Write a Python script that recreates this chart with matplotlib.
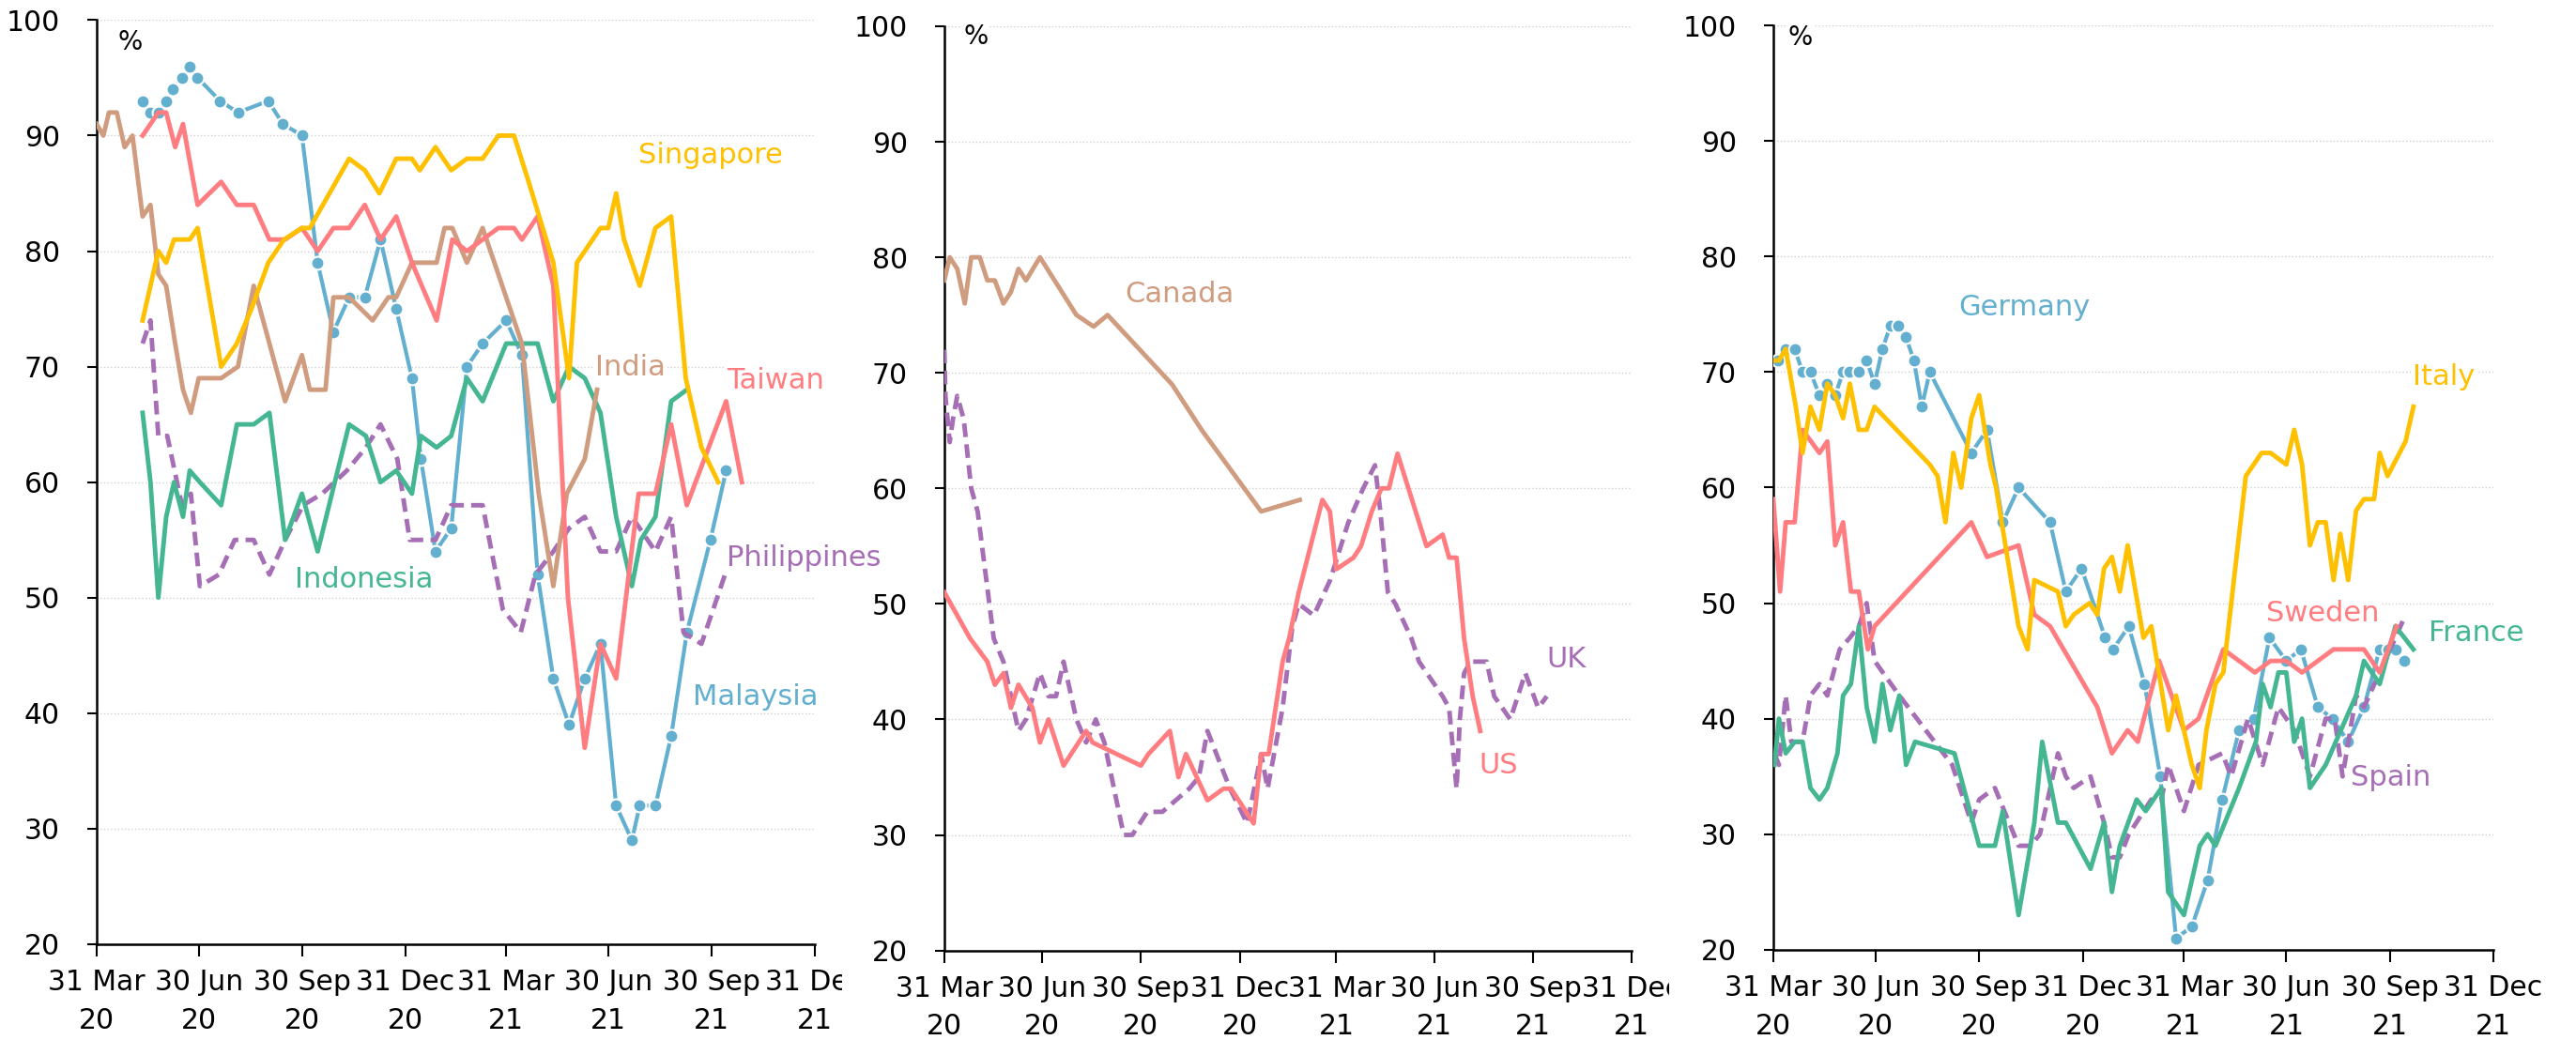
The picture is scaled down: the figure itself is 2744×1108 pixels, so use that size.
import matplotlib
matplotlib.use('Agg')
import matplotlib.pyplot as plt
import matplotlib.transforms as mtransforms
import pandas as pd

# days are counted from 31 Mar 2020
base = pd.Timestamp('2020-03-31')

tick_dates = ['2020-03-31', '2020-06-30', '2020-09-30', '2020-12-31',
              '2021-03-31', '2021-06-30', '2021-09-30', '2021-12-31']
tick_labels = ['31 Mar\n20', '30 Jun\n20', '30 Sep\n20', '31 Dec\n20',
               '31 Mar\n21', '30 Jun\n21', '30 Sep\n21', '31 Dec\n21']

# ---- panel 1: Asia ----
singapore_d = [41, 55, 62, 69, 83, 90, 111, 125, 138, 153, 167, 183, 190, 225, 239, 252, 267, 281, 288,
               302, 316, 330, 344, 358, 372, 385, 407, 421, 428, 449, 456, 463, 470, 484, 498, 512, 525, 539, 554]
singapore_v = [74, 80, 79, 81, 81, 82, 70, 72, 75, 79, 81, 82, 82, 88, 87, 85, 88, 88, 87,
               89, 87, 88, 88, 90, 90, 86, 79, 69, 79, 82, 82, 85, 81, 77, 82, 83, 69, 63, 60]

taiwan_d = [41, 55, 62, 70, 77, 90, 111, 125, 140, 154, 168, 183, 197, 211, 225, 239, 253, 267, 281,
            303, 317, 330, 344, 358, 372, 379, 393, 407, 420, 435, 449, 463, 483, 498, 512, 526, 561, 575]
taiwan_v = [90, 92, 92, 89, 91, 84, 86, 84, 84, 81, 81, 82, 80, 82, 82, 84, 81, 83, 79,
            74, 81, 80, 81, 82, 82, 81, 83, 77, 50, 37, 46, 43, 59, 59, 65, 58, 67, 60]

malaysia_d = [41, 48, 55, 62, 68, 76, 83, 90, 110, 126, 153, 166, 183, 197, 211, 225, 239, 253, 267, 281,
              289, 302, 316, 330, 344, 365, 379, 393, 407, 421, 435, 449, 463, 477, 484, 498, 512, 526, 547, 561]
malaysia_v = [93, 92, 92, 93, 94, 95, 96, 95, 93, 92, 93, 91, 90, 79, 73, 76, 76, 81, 75, 69,
              62, 54, 56, 70, 72, 74, 71, 52, 43, 39, 43, 46, 32, 29, 32, 32, 38, 47, 55, 61]

india_d = [0, 6, 11, 18, 25, 32, 41, 48, 55, 62, 70, 77, 84, 91, 111, 126, 140, 168, 183, 190, 204,
           211, 225, 246, 260, 267, 281, 303, 310, 317, 330, 344, 379, 394, 407, 419, 435, 446]
india_v = [91, 90, 92, 92, 89, 90, 83, 84, 78, 77, 72, 68, 66, 69, 69, 70, 77, 67, 71, 68, 68,
           76, 76, 74, 76, 76, 79, 79, 82, 82, 79, 82, 72, 59, 51, 59, 62, 68]

indonesia_d = [41, 48, 55, 62, 69, 77, 83, 92, 111, 125, 140, 154, 168, 183, 197, 225, 240, 253, 267,
               281, 289, 303, 316, 330, 344, 365, 393, 407, 421, 435, 449, 463, 477, 485, 498, 512, 526]
indonesia_v = [66, 60, 50, 57, 60, 57, 61, 60, 58, 65, 65, 66, 55, 59, 54, 65, 64, 60, 61,
               59, 64, 63, 64, 69, 67, 72, 72, 67, 70, 69, 66, 57, 51, 55, 57, 67, 68]

phil_d = [41, 48, 55, 63, 76, 84, 92, 109, 123, 140, 154, 168, 184, 201, 223, 240, 253, 268, 279,
          289, 302, 316, 344, 362, 378, 391, 407, 421, 435, 449, 463, 477, 484, 498, 512, 523, 539, 560]
phil_v = [72, 74, 64, 64, 58, 59, 51, 52, 55, 55, 52, 55, 58, 59, 61, 63, 65, 62, 55,
          55, 55, 58, 58, 49, 47, 52, 54, 56, 57, 54, 54, 57, 56, 54, 57, 47, 46, 52]

# ---- panel 2: North America / UK ----
canada_d = [0, 5, 12, 19, 25, 33, 40, 47, 55, 62, 69, 76, 89, 123, 139, 152, 212, 240, 295, 331]
canada_v = [78, 80, 79, 76, 80, 80, 78, 78, 76, 77, 79, 78, 80, 75, 74, 75, 69, 65, 58, 59]

us_d = [0, 24, 40, 47, 55, 62, 69, 82, 89, 97, 111, 132, 138, 183, 190, 210, 218, 225, 245, 260, 267,
        288, 295, 302, 315, 321, 330, 352, 359, 365, 381, 388, 398, 407, 414, 422, 449, 464, 470, 477,
        484, 492, 499]
us_v = [51, 47, 45, 43, 44, 41, 43, 41, 38, 40, 36, 39, 38, 36, 37, 39, 35, 37, 33, 34, 34,
        31, 37, 37, 45, 47, 51, 59, 58, 53, 54, 55, 58, 60, 60, 63, 55, 56, 54, 54,
        47, 42, 39]

uk_d = [0, 1, 5, 8, 12, 18, 25, 31, 46, 55, 69, 76, 89, 97, 104, 111, 123, 132, 141, 149, 167, 175,
        189, 203, 228, 237, 245, 266, 282, 295, 301, 315, 324, 330, 344, 359, 376, 390, 401, 406, 413,
        420, 435, 442, 464, 470, 474, 477, 480, 484, 490, 505, 512, 527, 541, 553, 561]
uk_v = [72, 68, 64, 66, 68, 66, 60, 58, 47, 45, 39, 40, 44, 42, 42, 45, 40, 38, 40, 38, 30, 30,
        32, 32, 34, 35, 39, 34, 31, 37, 34, 41, 48, 50, 49, 52, 57, 60, 62, 58, 51,
        50, 47, 45, 42, 41, 37, 34, 40, 44, 45, 45, 42, 40, 44, 41, 42]

# ---- panel 3: Europe ----
germany_d = [4, 11, 19, 26, 33, 41, 48, 55, 62, 68, 76, 83, 90, 97, 104, 111, 118, 125, 132, 139, 176,
             190, 204, 218, 246, 260, 274, 295, 302, 316, 330, 344, 358, 372, 386, 399, 414, 427, 441,
             456, 469, 484, 497, 511, 525, 539, 547, 553, 561]
germany_v = [71, 72, 72, 70, 70, 68, 69, 68, 70, 70, 70, 71, 69, 72, 74, 74, 73, 71, 67, 70, 63,
             65, 57, 60, 57, 51, 53, 47, 46, 48, 43, 35, 21, 22, 26, 33, 39, 40, 47,
             45, 46, 41, 40, 38, 41, 46, 46, 46, 45]

italy_d = [0, 5, 11, 20, 26, 33, 41, 48, 55, 62, 68, 76, 83, 90, 139, 146, 153, 160, 167, 176, 183,
           193, 198, 218, 226, 232, 253, 260, 267, 281, 288, 294, 301, 308, 315, 329, 336, 351, 358,
           372, 379, 385, 393, 400, 420, 434, 442, 456, 463, 470, 477, 484, 491, 498, 504, 511, 518,
           525, 534, 539, 546, 562, 569]
italy_v = [71, 71, 72, 67, 63, 67, 65, 69, 68, 66, 69, 65, 65, 67, 62, 61, 57, 63, 60, 66, 68,
           62, 60, 48, 46, 52, 51, 48, 49, 50, 49, 53, 54, 51, 55, 47, 48, 39, 42,
           36, 34, 39, 43, 44, 61, 63, 63, 62, 65, 62, 55, 57, 57, 52, 56, 52, 58,
           59, 59, 63, 61, 64, 67]

sweden_d = [0, 6, 11, 19, 26, 41, 48, 55, 62, 69, 76, 84, 90, 176, 190, 218, 232, 246, 288, 301, 315,
            324, 343, 365, 378, 400, 428, 442, 456, 470, 498, 525, 539, 554]
sweden_v = [59, 51, 57, 57, 65, 63, 64, 55, 57, 51, 51, 46, 48, 57, 54, 55, 49, 48, 41, 37, 39,
            38, 45, 39, 40, 46, 44, 45, 45, 44, 46, 46, 44, 48]

france_d = [1, 5, 11, 19, 26, 33, 41, 48, 57, 62, 69, 76, 83, 90, 97, 104, 112, 118, 126, 161, 183,
            197, 204, 218, 232, 239, 253, 260, 282, 294, 301, 308, 323, 331, 345, 351, 365, 379, 386,
            393, 414, 429, 435, 442, 449, 456, 463, 470, 477, 491, 518, 525, 539, 553, 569]
france_v = [36, 40, 37, 38, 38, 34, 33, 34, 37, 42, 43, 48, 41, 38, 43, 39, 42, 36, 38, 37, 29,
            29, 32, 23, 31, 38, 31, 31, 27, 31, 25, 29, 33, 32, 34, 25, 23, 29, 30,
            29, 34, 38, 43, 41, 44, 44, 38, 40, 34, 36, 42, 45, 43, 48, 46]

spain_d = [1, 5, 11, 16, 26, 33, 41, 48, 59, 68, 76, 83, 90, 112, 159, 176, 183, 197, 218, 229, 237,
           253, 260, 267, 282, 294, 301, 308, 316, 336, 345, 351, 365, 378, 399, 407, 422, 435, 449,
           456, 463, 477, 491, 499, 506, 518, 525, 539, 553, 562]
spain_v = [37, 36, 42, 38, 38, 42, 43, 42, 46, 47, 48, 50, 45, 42, 36, 31, 33, 34, 29, 29, 30,
           37, 35, 34, 35, 31, 28, 28, 30, 33, 33, 36, 32, 36, 37, 35, 40, 36, 41,
           40, 39, 35, 40, 40, 35, 42, 41, 44, 47, 49]

YELLOW = '#FFC000'
SALMON = '#FF7C80'
TAN = '#D09C7F'
GREEN = '#44B692'
BLUE = '#62AFCF'
PURPLE = '#A56EB5'

# (label, days, values, colour, style, label day, label value)
panels = [
    [('Malaysia', malaysia_d, malaysia_v, BLUE, 'marker', 587, 41.4),
     ('Philippines', phil_d, phil_v, PURPLE, 'dash', 630, 53.4),
     ('Indonesia', indonesia_d, indonesia_v, GREEN, 'solid', 238, 51.6),
     ('India', india_d, india_v, TAN, 'solid', 476, 69.9),
     ('Taiwan', taiwan_d, taiwan_v, SALMON, 'solid', 605, 68.8),
     ('Singapore', singapore_d, singapore_v, YELLOW, 'solid', 547, 88.3)],
    [('Canada', canada_d, canada_v, TAN, 'solid', 219, 76.8),
     ('UK', uk_d, uk_v, PURPLE, 'dash', 579, 45.2),
     ('US', us_d, us_v, SALMON, 'solid', 516, 36.0)],
    [('Germany', germany_d, germany_v, BLUE, 'marker', 223, 75.6),
     ('Spain', spain_d, spain_v, PURPLE, 'dash', 549, 34.9),
     ('France', france_d, france_v, GREEN, 'solid', 625, 47.4),
     ('Sweden', sweden_d, sweden_v, SALMON, 'solid', 488, 49.1),
     ('Italy', italy_d, italy_v, YELLOW, 'solid', 596, 69.6)],
]

# axes boxes in figure fraction, and the x-range where tick labels stay visible
boxes = [[0.0375, 0.0921, 0.2788, 0.8886],
         [0.3666, 0.0861, 0.2668, 0.8887],
         [0.6884, 0.0868, 0.2795, 0.8887]]
pct_pos = [(0.047, 0.976), (0.046, 0.989), (0.037, 0.987)]
label_clip = [(0.0, 897 / 2744), (940 / 2744, 1778 / 2744), (0.0, 1.0)]

plt.rcParams['font.family'] = 'DejaVu Sans'
fig = plt.figure(figsize=(27.44, 11.08), dpi=100)

def to_dates(days):
    return base + pd.to_timedelta(days, unit='D')

for box, series, pct, clip in zip(boxes, panels, pct_pos, label_clip):
    ax = fig.add_axes(box)
    for name, d, v, col, style, lx, ly in series:
        x = to_dates(d)
        if style == 'marker':
            ax.plot(x, v, color=col, lw=3, marker='o', ms=10, mec='white', mew=1.5, zorder=3)
        elif style == 'dash':
            ax.plot(x, v, color=col, lw=3.5, ls=(0, (3, 1.6)), zorder=3)
        else:
            ax.plot(x, v, color=col, lw=3.5, zorder=3)
        ax.text(base + pd.Timedelta(days=lx), ly, name, color=col, fontsize=22,
                ha='center', va='center', zorder=1.5,
                bbox=dict(facecolor='white', edgecolor='none', pad=1))

    ax.text(pct[0], pct[1], '%', transform=ax.transAxes, fontsize=20,
            ha='center', va='center', zorder=1.5,
            bbox=dict(facecolor='white', edgecolor='none', pad=1))

    ax.set_ylim(20, 100)
    ax.set_yticks(range(20, 101, 10))
    ax.set_xlim(pd.Timestamp(tick_dates[0]), pd.Timestamp(tick_dates[-1]))
    ax.set_xticks(pd.to_datetime(tick_dates))
    ax.set_xticklabels(tick_labels, linespacing=1.5)
    ax.set_axisbelow(True)
    ax.grid(axis='y', color='#D0D0D0', ls=':', lw=1)

    for s in ['top', 'right']:
        ax.spines[s].set_visible(False)
    for s in ['left', 'bottom']:
        ax.spines[s].set_linewidth(1.8)
    ax.tick_params(axis='y', direction='out', length=7, width=1.5, pad=21, labelsize=21.5)
    ax.tick_params(axis='x', direction='out', length=9, width=1.5, pad=10, labelsize=21.5)

    cb = mtransforms.TransformedBbox(mtransforms.Bbox([[clip[0], 0], [clip[1], 1]]), fig.transFigure)
    for lab in ax.get_xticklabels():
        lab.set_clip_on(True)
        lab.set_clip_box(cb)

fig.savefig('out.png', dpi=100, facecolor='white')
